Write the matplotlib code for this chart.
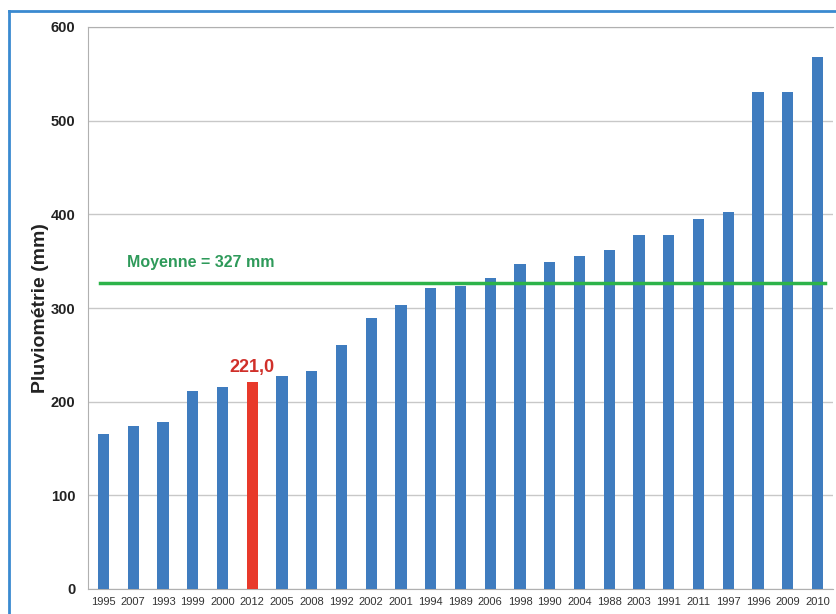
import matplotlib.pyplot as plt
from matplotlib.lines import Line2D

# Données : pluviométrie annuelle classée (mm)
annees = ['1995', '2007', '1993', '1999', '2000', '2012', '2005', '2008', '1992', '2002',
          '2001', '1994', '1989', '2006', '1998', '1990', '2004', '1988', '2003', '1991',
          '2011', '1997', '1996', '2009', '2010']
pluie = [165, 174, 178, 211, 216, 221, 227, 233, 260, 289,
         303, 321, 324, 332, 347, 349, 356, 362, 378, 378,
         395, 403, 531, 531, 568]
moyenne = 327
annee_mise_en_avant = '2012'

plt.rcParams['font.family'] = ['Liberation Sans', 'DejaVu Sans']

fig = plt.figure(figsize=(8.37, 6.14), dpi=100)
ax = fig.add_axes([88 / 837, 1 - 589 / 614, 745 / 837, 562 / 614])

x = list(range(len(annees)))
couleurs = ['#e8392a' if a == annee_mise_en_avant else '#3f7cbf' for a in annees]
ax.bar(x, pluie, width=0.38, color=couleurs, zorder=3)

ax.axhline(moyenne, xmin=0.016, xmax=0.989, color='#2db34a', linewidth=2.5, zorder=4)
ax.text(0.79, 349, f'Moyenne = {moyenne} mm', color='#2e9a5a',
        fontsize=11.5, fontweight='bold', ha='left', va='center')

i = annees.index(annee_mise_en_avant)
ax.text(i, pluie[i] + 6, f'{pluie[i]},0', color='#d0302a',
        fontsize=13, fontweight='bold', ha='center', va='bottom')

ax.set_ylim(0, 600)
ax.set_xlim(-0.52, len(annees) - 1 + 0.52)
ax.set_yticks(range(0, 601, 100))
ax.set_yticklabels([str(v) for v in range(0, 601, 100)], fontsize=10.5, fontweight='bold', color='#222222')
ax.set_xticks(x)
ax.set_xticklabels(annees, fontsize=8, color='#333333')
ax.tick_params(axis='y', length=0, pad=9)
ax.tick_params(axis='x', length=0, pad=6)
ax.grid(axis='y', color='#c8c8c8', linewidth=1, zorder=0)
for s in ['left', 'top', 'bottom']:
    ax.spines[s].set_color('#b0b0b0')
ax.spines['right'].set_visible(False)
ax.set_ylabel('Pluviométrie (mm)', fontsize=14, fontweight='bold', color='#222222', labelpad=1)

# cadre bleu de la figure
fig.add_artist(Line2D([9 / 837, 1], [1 - 11 / 614, 1 - 11 / 614], color='#3a8ad0', linewidth=2))
fig.add_artist(Line2D([9 / 837, 9 / 837], [0, 1 - 11 / 614], color='#3a8ad0', linewidth=2))

fig.savefig('out.png', dpi=100)
